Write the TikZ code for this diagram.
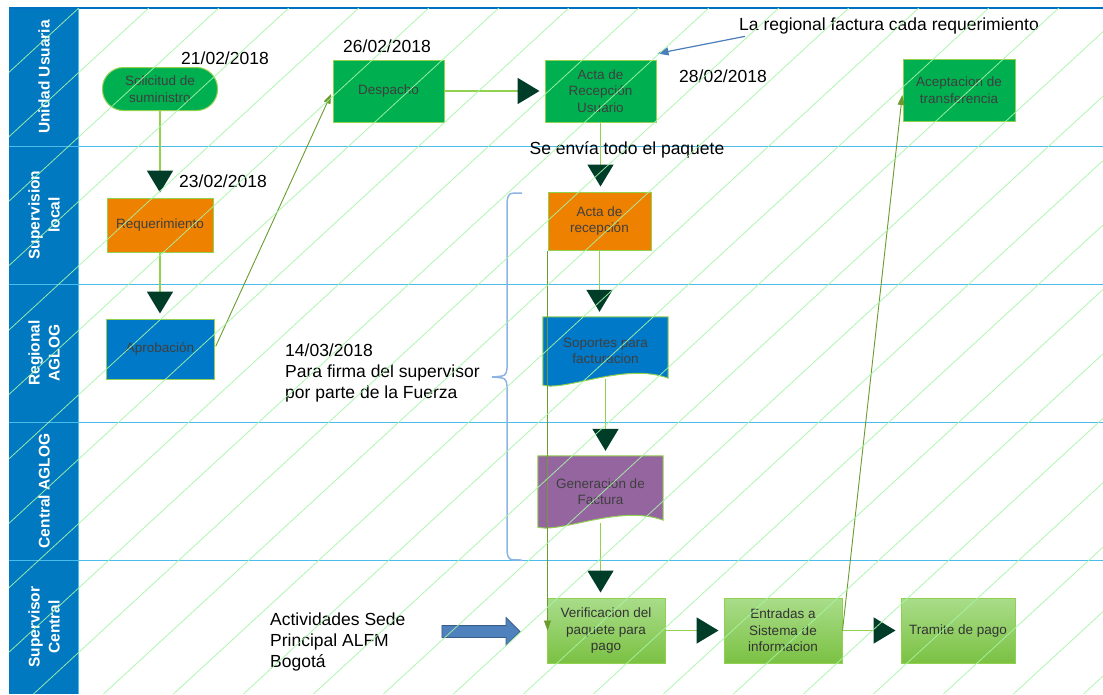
\documentclass[tikz,border=0pt]{standalone}
\usepackage{fontspec}
\setmainfont{Liberation Sans}
\usetikzlibrary{arrows.meta, calc, backgrounds, shapes.arrows}

\definecolor{lanebar}{HTML}{0079C1}
\definecolor{laneline}{HTML}{4CBDEB}
\definecolor{topline}{HTML}{0070C0}
\definecolor{hatchgreen}{HTML}{A6F5A6}
\definecolor{boxgreen}{HTML}{00B050}
\definecolor{boxorange}{HTML}{EE8100}
\definecolor{boxblue}{HTML}{0079C8}
\definecolor{boxpurple}{HTML}{9565A0}
\definecolor{paletop}{HTML}{A9DD8A}
\definecolor{palebottom}{HTML}{7BC143}
\definecolor{edgegreen}{HTML}{92D050}
\definecolor{tipgreen}{HTML}{003D29}
\definecolor{arrowolive}{HTML}{6A9C30}
\definecolor{boxtext}{HTML}{3F3F3F}
\definecolor{noteblue}{HTML}{4A7EBB}
\definecolor{blockfill}{HTML}{4F81BD}
\definecolor{blockedge}{HTML}{385D8A}
\definecolor{bracecol}{HTML}{8EB4E3}

% document shape with wavy bottom, drawn from the anchors of a node
\newcommand{\flowdoc}[1]{(#1.north west) -- (#1.north east) -- ($(#1.south east)+(0,-7)$)
  .. controls +(-43,-16) and +(24,6) .. (#1.south west) -- cycle}

\tikzset{
  proc/.style={draw=edgegreen, line width=1pt, text=boxtext, align=center, inner sep=2pt,
    font=\fontsize{13.5}{16.5}\selectfont},
  procgreen/.style={proc, fill=boxgreen},
  procorange/.style={proc, fill=boxorange},
  procblue/.style={proc, fill=boxblue},
  procpale/.style={proc, top color=paletop, bottom color=palebottom, text=black!80},
  doctext/.style={align=center, text=boxtext, inner sep=0pt,
    font=\fontsize{13.5}{16.5}\selectfont},
  docshape/.style={draw=edgegreen, line width=1pt},
  datelabel/.style={inner sep=0pt, align=left, font=\fontsize{17.5}{21}\selectfont},
  lanelabel/.style={rotate=90, text=white, align=center, inner sep=0pt,
    font=\bfseries\fontsize{15.5}{20}\selectfont},
  flow/.style={draw=edgegreen, line width=1.8pt, shorten >=5pt,
    -{Triangle[length=22pt,width=26pt,color=tipgreen,fill=tipgreen]}},
  thinflow/.style={draw=arrowolive, line width=0.9pt, -{Triangle[length=10pt,width=7pt]}},
  notearrow/.style={draw=noteblue, line width=1.2pt, -{Triangle[length=11pt,width=8pt]}},
  hatch/.style={draw=hatchgreen, line width=0.8pt, opacity=0.9},
}

\begin{document}
\begin{tikzpicture}[x=1pt,y=-1pt]
\useasboundingbox (0,0) rectangle (1103,694);

% lanes
\begin{scope}[on background layer]
\fill[white] (0,0) rectangle (1103,694);
\fill[lanebar] (9,8) rectangle (78,694);
\foreach \ly in {146,284,422,560}
  \draw[laneline, line width=1pt] (9,\ly) -- (1103,\ly);
\draw[laneline, line width=1pt] (78,8) -- (78,694);
\draw[topline, line width=2pt] (9,8) -- (1103,8);
\end{scope}

\node[lanelabel] (lusuaria) at (44,77) {Unidad Usuaria};
\node[lanelabel] (llocal) at (44,215) {Supervision\\local};
\node[lanelabel] (lregional) at (44,353) {Regional\\AGLOG};
\node[lanelabel] (lcentral) at (44,491) {Central AGLOG};
\node[lanelabel] (lsupcentral) at (44,627) {Supervisor\\Central};

% process boxes
\node[procgreen, rounded corners=21pt, minimum width=115pt, minimum height=43pt]
  (solicitud) at (160,89) {Solicitud de\\suministro};
\node[procorange, minimum width=106pt, minimum height=54pt] (requer) at (160,225) {Requerimiento};
\node[procblue, minimum width=108pt, minimum height=60pt] (aprob) at (160,349) {Aprobación};
\node[procgreen, minimum width=111pt, minimum height=62pt] (despacho) at (388.5,91) {Despacho};
\node[procgreen, minimum width=111pt, minimum height=62pt] (actaus) at (600.5,91) {Acta de\\Recepción\\Usuario};
\node[procgreen, minimum width=112pt, minimum height=62pt] (aceptacion) at (959,90) {Aceptacion de\\transferencia};
\node[procorange, minimum width=103pt, minimum height=58pt] (actarec) at (599.5,221) {Acta de\\recepción};
\node[doctext, minimum width=125pt, minimum height=68pt] (soportes) at (605.5,351) {Soportes para\\facturacion};
\node[doctext, minimum width=125pt, minimum height=71pt] (generacion) at (600.5,491.5) {Generacion de\\Factura};
\node[procpale, minimum width=118pt, minimum height=65pt] (verif) at (606,630.5) {Verificacion del\\paquete para\\pago};
\node[procpale, minimum width=118pt, minimum height=65pt] (entradas) at (783,630.5) {Entradas a\\Sistema de\\informacion};
\node[procpale, minimum width=114pt, minimum height=65pt] (tramite) at (958,630.5) {Tramite de pago};

\begin{scope}[on background layer]
\path[docshape, fill=boxblue] \flowdoc{soportes};
\path[docshape, fill=boxpurple] \flowdoc{generacion};
\end{scope}

% notes
\node[datelabel] (d2102) at (225,58) {21/02/2018};
\node[datelabel] (d2302) at (223,181) {23/02/2018};
\node[datelabel] (d2602) at (387,46) {26/02/2018};
\node[datelabel] (d2802) at (723,76) {28/02/2018};
\node[datelabel] (regional) at (889,26) {La regional factura cada requerimiento};
\node[datelabel] (envia) at (627,150) {Se envía todo el paquete};
\node[datelabel, anchor=west] (firma) at (285,373) {14/03/2018\\Para firma del supervisor\\por parte de la Fuerza};
\node[datelabel, anchor=west] (sede) at (270,642) {Actividades Sede\\Principal ALFM\\Bogotá};
\node[single arrow, draw=blockedge, fill=blockfill, line width=0.8pt, inner sep=5.5pt,
  single arrow head extend=8pt, minimum height=78pt] (sedearrow) at (478,631.5) {};
\draw[bracecol, line width=1.5pt]
  (522,193) .. controls (508,193) .. (507,203) -- (507,368)
  .. controls (506,376) .. (492,377) .. controls (506,378) .. (507,386)
  -- (507,550) .. controls (508,560) .. (522,560);

% connectors
\draw[flow] (solicitud) -- (requer);
\draw[flow] (requer) -- (aprob);
\draw[flow] (despacho) -- (actaus);
\draw[flow] (actaus.south) -- (actaus.south |- actarec.north);
\draw[flow] (actarec.south) -- (actarec.south |- soportes.north);
\draw[flow] ([yshift=6pt]soportes.south) -- (soportes.south |- generacion.north);
\draw[flow] ([yshift=4pt]generacion.south) -- (generacion.south |- verif.north);
\draw[flow] (verif) -- (entradas);
\draw[flow] (entradas) -- (tramite);
\draw[thinflow, shorten <=3pt, shorten >=3pt] (aprob.east) -- (despacho.west);
\draw[thinflow, shorten >=2pt] (entradas.east) -- ([yshift=-3pt]aceptacion.west);
\draw[thinflow] (actarec.south west) -- (actarec.south west |- verif.west);
\draw[notearrow] ([xshift=6pt,yshift=-2pt]regional.south west) -- ([xshift=1pt,yshift=6pt]actaus.north east);

% hatching over the whole chart
\begin{scope}
\clip (9,8) rectangle (1103,694);
\foreach \k in {-19,...,8}
  \draw[hatch] ({593.5+70*\k},694) -- ++(754,-694);
\end{scope}
\end{tikzpicture}
\end{document}
